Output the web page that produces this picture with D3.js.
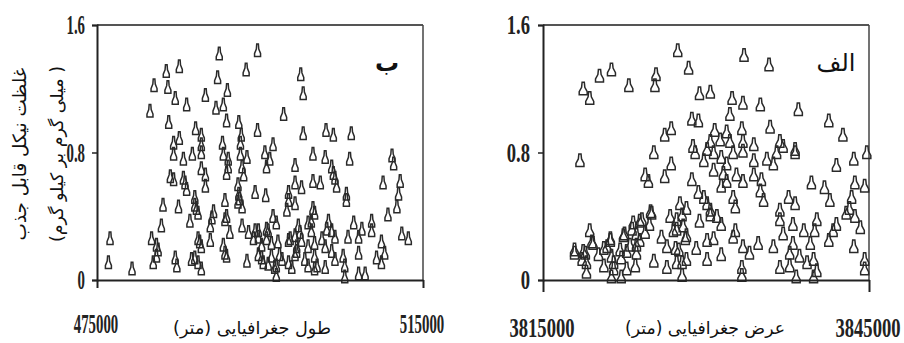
<!DOCTYPE html>
<html>
<head>
<meta charset="utf-8">
<script src="https://cdn.jsdelivr.net/npm/d3@7"></script>
<style>
  body { margin: 0; background: #fff; }
  svg { display: block; }
</style>
</head>
<body>
<svg id="chart" width="904" height="343"></svg>
<script>
// panel "ب": longitude (m) vs available nickel (mg/kg)
const lonTicks = [475000, 515000];
const concTicks = [0, 0.8, 1.6];
const concTickLabels = ['0', '0.8', '1.6'];

const lonValues = [
  490000, 494700, 485100, 483500, 482000, 483700, 484600, 486000, 481500, 489800,
  493300, 488300, 491000, 490500, 489600, 500000, 500300, 497900, 483800, 487100,
  487800, 490900, 492400, 494700, 492700, 500300, 503100, 504000, 506200, 485100,
  484400, 492600, 490400, 496600, 487800,
  484400, 485600, 486700, 487800, 490500, 491100, 492600, 493400, 495600, 496200,
  501500, 503000, 506000, 511200, 511400, 487800, 488300, 491100, 490900, 492800,
  493000, 495800, 499300, 503800, 504000, 504200, 484000, 484400, 485600, 485800,
  486000, 488300, 492300, 492400, 494400, 495700, 498500, 499300, 500100, 501500,
  502400, 504400, 505600, 505600, 510100, 512200, 512000, 483100, 485000, 487000,
  487200, 487400, 492500, 492800, 490700, 489300, 489100, 490900, 498500, 498300,
  499300, 501500, 501700, 510700, 511800, 482900, 486400, 488900, 491300, 492800,
  493600, 494200, 494800, 496000, 496600, 497000, 495800, 495200, 496400, 499700,
  500900, 501300, 503400, 503800, 504200, 506500, 507500, 508700, 508700, 509900,
  512400, 513200, 505800, 507100, 476600, 481700, 482300, 482500, 487400, 487800,
  488900, 490500, 490700, 498500, 499300, 499500, 500100, 500900, 501700, 502600,
  503000, 476400, 479300, 481900, 482300, 484600, 484800, 486600, 487400, 487800,
  490900, 493400, 494800, 495400, 496400, 497000, 497700, 497000, 498500, 498900,
  499300, 500500, 500900, 501700, 502000, 503000, 504200, 505200, 505400, 505400,
  507100, 507100, 507900, 509300, 509900, 510300, 501700,
  490700, 494400, 494800, 495800, 497200, 497400, 496800, 495200, 496000, 498700,
  499900, 501300, 503200, 503800, 499500, 487600, 487000, 487000, 492300
];
const lonConc = [
  1.42, 1.44, 1.34, 1.31, 1.22, 1.21, 1.14, 1.10, 1.06, 1.27,
  1.32, 1.16, 1.19, 1.10, 1.08, 1.29, 1.17, 1.04, 0.99, 0.95,
  0.91, 1.00, 0.99, 0.94, 0.91, 0.92, 0.94, 0.91, 0.92, 0.89,
  0.86, 0.86, 0.86, 0.85, 0.85,
  0.79, 0.76, 0.79, 0.80, 0.79, 0.76, 0.79, 0.77, 0.80, 0.76,
  0.79, 0.77, 0.76, 0.78, 0.73, 0.70, 0.66, 0.71, 0.67, 0.71,
  0.66, 0.71, 0.72, 0.71, 0.67, 0.64, 0.65, 0.63, 0.64, 0.61,
  0.57, 0.59, 0.60, 0.54, 0.55, 0.53, 0.55, 0.61, 0.58, 0.62,
  0.61, 0.59, 0.54, 0.50, 0.61, 0.62, 0.54, 0.47, 0.46, 0.52,
  0.45, 0.42, 0.51, 0.46, 0.50, 0.43, 0.39, 0.40, 0.50, 0.44,
  0.48, 0.45, 0.42, 0.41, 0.46, 0.34, 0.37, 0.34, 0.30, 0.34,
  0.30, 0.26, 0.31, 0.31, 0.40, 0.36, 0.26, 0.22, 0.23, 0.34,
  0.36, 0.31, 0.37, 0.31, 0.27, 0.36, 0.32, 0.37, 0.31, 0.24,
  0.29, 0.26, 0.27, 0.27, 0.26, 0.26, 0.22, 0.19, 0.26, 0.21,
  0.25, 0.22, 0.17, 0.25, 0.28, 0.21, 0.25, 0.21, 0.23, 0.26,
  0.21, 0.11, 0.07, 0.11, 0.15, 0.14, 0.09, 0.13, 0.11, 0.07,
  0.15, 0.12, 0.16, 0.11, 0.15, 0.09, 0.13, 0.03, 0.11, 0.08,
  0.16, 0.13, 0.09, 0.15, 0.09, 0.08, 0.13, 0.15, 0.09, 0.02,
  0.17, 0.04, 0.04, 0.14, 0.11, 0.17, 0.07,
  0.38, 0.31, 0.27, 0.32, 0.24, 0.16, 0.08, 0.14, 0.10, 0.26,
  0.30, 0.37, 0.32, 0.18, 0.18, 0.24, 0.14, 0.47, 0.49
];

// panel "الف": latitude (m) vs available nickel (mg/kg)
const latTicks = [3815000, 3845000];

const latValues = [
  3827400, 3833500, 3835800, 3828400, 3821300, 3820200, 3818700, 3819300, 3822900, 3825400,
  3825300, 3829400, 3830400, 3832400, 3833400, 3835000, 3832200, 3838500, 3841300, 3842600,
  3828700, 3829300, 3830800, 3831900, 3833300, 3835900, 3826200, 3826800, 3836800, 3828800,
  3830400, 3831300, 3832200, 3833400, 3834400, 3837100, 3838200, 3830100,
  3818400, 3825200, 3826800, 3826200, 3824400, 3824700, 3828700, 3829000, 3829800, 3830700,
  3831400, 3831900, 3832500, 3833400, 3834400, 3835600, 3836200, 3836500, 3838200, 3842000,
  3843600, 3844800, 3830700, 3831600, 3831900, 3831400, 3832800, 3833400, 3834400, 3835100,
  3835000, 3835300, 3832500, 3832700, 3829800, 3829300, 3830100, 3830400, 3831000, 3831400,
  3829400, 3839700, 3840900, 3841400, 3843700, 3844600, 3843400, 3843200, 3842900, 3843700,
  3827600, 3828200, 3827800, 3826700, 3827300, 3825000, 3824100, 3824800, 3823300, 3823600,
  3822500, 3823900, 3823000, 3822100, 3821200, 3820900, 3819300, 3819600, 3818900, 3817900,
  3818600, 3819000, 3820100, 3820600, 3821300, 3821500, 3822200, 3822700, 3823600, 3821300,
  3822200, 3825200, 3825900, 3826400, 3827000, 3827900, 3828100, 3827500, 3826400, 3827300,
  3827800, 3828200, 3829100, 3830100, 3830100, 3831400, 3832700, 3832500, 3833400, 3833300,
  3833300, 3834000, 3834800, 3836200, 3836800, 3836800, 3837100, 3837600, 3838200, 3838000,
  3839000, 3840200, 3840000, 3839600, 3838000, 3837700, 3836800, 3837700, 3838600, 3839300,
  3839900, 3840200, 3838300, 3839900, 3841700, 3842000, 3844200, 3843600, 3844600, 3844600,
  3841300,
  3817900, 3818700, 3819500, 3819000, 3820600, 3821200, 3821500, 3822400, 3822700, 3823200,
  3823900, 3824400, 3824900, 3823600, 3823500, 3827300, 3827200, 3827800, 3828200, 3830700,
  3830400
];
const latConc = [
  1.44, 1.41, 1.35, 1.33, 1.32, 1.28, 1.20, 1.14, 1.22, 1.29,
  1.22, 1.17, 1.18, 1.14, 1.11, 1.10, 1.04, 1.07, 1.00, 0.91,
  1.01, 1.00, 0.94, 0.93, 0.95, 0.96, 0.91, 0.95, 0.87, 0.84,
  0.87, 0.88, 0.87, 0.87, 0.85, 0.84, 0.82, 0.82,
  0.75, 0.80, 0.73, 0.65, 0.66, 0.62, 0.63, 0.80, 0.75, 0.80,
  0.77, 0.73, 0.80, 0.81, 0.75, 0.76, 0.73, 0.80, 0.80, 0.72,
  0.76, 0.80, 0.69, 0.67, 0.62, 0.59, 0.66, 0.62, 0.66, 0.63,
  0.56, 0.50, 0.52, 0.46, 0.52, 0.55, 0.48, 0.44, 0.40, 0.35,
  0.37, 0.61, 0.58, 0.50, 0.61, 0.59, 0.52, 0.45, 0.42, 0.40,
  0.48, 0.45, 0.41, 0.40, 0.38, 0.42, 0.38, 0.35, 0.36, 0.29,
  0.29, 0.25, 0.22, 0.19, 0.25, 0.21, 0.31, 0.23, 0.17, 0.17,
  0.13, 0.05, 0.16, 0.09, 0.15, 0.07, 0.14, 0.07, 0.17, 0.02,
  0.02, 0.12, 0.27, 0.21, 0.31, 0.34, 0.26, 0.19, 0.08, 0.11,
  0.03, 0.13, 0.20, 0.13, 0.25, 0.16, 0.31, 0.27, 0.21, 0.08,
  0.03, 0.17, 0.23, 0.21, 0.44, 0.38, 0.29, 0.52, 0.48, 0.35,
  0.31, 0.38, 0.31, 0.23, 0.23, 0.17, 0.08, 0.09, 0.15, 0.11,
  0.13, 0.06, 0.02, 0.02, 0.31, 0.35, 0.33, 0.21, 0.13, 0.07,
  0.25,
  0.19, 0.18, 0.24, 0.11, 0.20, 0.26, 0.11, 0.28, 0.18, 0.32,
  0.37, 0.30, 0.43, 0.22, 0.09, 0.32, 0.20, 0.11, 0.28, 0.26,
  0.41
];

const svg = d3.select('#chart');
const plotTop = 25, plotBottom = 280;
const ink = '#222';
const digitStretch = 1.4;

// size a text so it spans the given width
function fitWidth(sel, width, base) {
  sel.attr('font-size', base);
  const len = sel.node().getComputedTextLength();
  sel.attr('font-size', base * width / len);
}

// squeezed triangle marker, like the spreadsheet's
function marker(w) {
  const p = d3.path();
  p.moveTo(-1.1 * w, -6.5);
  p.lineTo(1.1 * w, -6.5);
  p.lineTo(1.6 * w, -1.5);
  p.lineTo(4 * w, 3);
  p.lineTo(4 * w, 6);
  p.lineTo(-4 * w, 6);
  p.lineTo(-4 * w, 3);
  p.lineTo(-1.6 * w, -1.5);
  p.closePath();
  return p.toString();
}

function drawPanel(o) {
  const x = d3.scaleLinear().domain(o.xDomain).range([o.left, o.right]);
  const y = d3.scaleLinear().domain([0, 1.6]).range([plotBottom, plotTop]);
  const g = svg.append('g');

  // frame
  g.append('line').attr('x1', o.left).attr('x2', o.right).attr('y1', plotTop).attr('y2', plotTop)
    .attr('stroke', '#555').attr('stroke-width', 2);
  g.append('line').attr('x1', o.right).attr('x2', o.right).attr('y1', plotTop).attr('y2', plotBottom)
    .attr('stroke', '#444').attr('stroke-width', 1.5);

  // markers
  const shape = marker(o.markerW);
  g.append('g').selectAll('path')
    .data(d3.zip(o.xs, o.ys))
    .join('path')
    .attr('d', shape)
    .attr('transform', d => `translate(${x(d[0])},${y(d[1])})`)
    .attr('fill', 'none')
    .attr('stroke', '#2a2a2a')
    .attr('stroke-width', 1.5);

  // y axis
  const yAxis = g.append('g').attr('transform', `translate(${o.left},0)`)
    .call(d3.axisLeft(y).tickValues(concTicks).tickSize(5).tickFormat(''));
  yAxis.select('.domain').attr('stroke', ink).attr('stroke-width', 2);
  yAxis.selectAll('.tick line').attr('stroke', ink).attr('stroke-width', 1.5);

  // x axis
  const xAxis = g.append('g').attr('transform', `translate(0,${plotBottom})`)
    .call(d3.axisBottom(x).tickValues(o.xTicks).tickSize(o.xTickLen).tickSizeOuter(0).tickFormat(''));
  xAxis.select('.domain').attr('stroke', ink).attr('stroke-width', 2);
  xAxis.selectAll('.tick line').attr('stroke', ink).attr('stroke-width', 2);

  // tick labels: tall condensed bold digits
  g.selectAll('.ylab')
    .data(concTicks)
    .join('text')
    .attr('transform', d => `translate(${o.left - o.yLabGap},${y(d) + 9.3})scale(${o.squeeze},${digitStretch})`)
    .attr('text-anchor', 'end')
    .attr('font-family', 'Liberation Serif, Times New Roman, serif')
    .attr('font-weight', 'bold')
    .attr('font-size', 20)
    .attr('fill', ink)
    .text((d, i) => concTickLabels[i]);

  g.selectAll('.xlab')
    .data(o.xTicks)
    .join('text')
    .attr('transform', d => `translate(${x(d) + o.xLabShift},${o.xLabBase})scale(${o.squeeze},${digitStretch})`)
    .attr('text-anchor', 'middle')
    .attr('font-family', 'Liberation Serif, Times New Roman, serif')
    .attr('font-weight', 'bold')
    .attr('font-size', 20)
    .attr('fill', ink)
    .text(d => d);

  // x title
  const xt = g.append('text')
    .attr('x', o.titleX).attr('y', 334)
    .attr('text-anchor', 'middle')
    .attr('direction', 'rtl')
    .attr('font-family', 'DejaVu Sans, sans-serif')
    .attr('fill', '#111')
    .text(o.title);
  fitWidth(xt, o.titleW, 16);

  // panel letter
  g.append('text')
    .attr('x', o.tagX).attr('y', 71)
    .attr('text-anchor', 'middle')
    .attr('direction', 'rtl')
    .attr('font-family', 'DejaVu Sans, sans-serif')
    .attr('font-weight', o.tagBold ? 'bold' : 'normal')
    .attr('font-size', o.tagSize)
    .attr('fill', '#111')
    .text(o.tag);
}

drawPanel({
  xs: lonValues, ys: lonConc, xDomain: [475000, 515000], xTicks: lonTicks,
  left: 97, right: 423, markerW: 0.75, squeeze: 0.74, yLabGap: 12,
  xTickLen: 8, xLabShift: -1, xLabBase: 333,
  title: 'طول جغرافیایی (متر)', titleX: 252, titleW: 158,
  tag: 'ب', tagX: 387, tagBold: true, tagSize: 24
});

drawPanel({
  xs: latValues, ys: latConc, xDomain: [3815000, 3845000], xTicks: latTicks,
  left: 543, right: 869, markerW: 1, squeeze: 0.93, yLabGap: 13,
  xTickLen: 12, xLabShift: -1, xLabBase: 337,
  title: 'عرض جغرافیایی (متر)', titleX: 705, titleW: 160,
  tag: 'الف', tagX: 836, tagBold: false, tagSize: 24
});

// shared y title, two rotated lines
const yTitle = ['غلظت نیکل قابل جذب', '( میلی گرم بر کیلو گرم)'];
const yTitleWidth = [173, 176];
svg.selectAll('.ytitle')
  .data(yTitle)
  .join('text')
  .attr('transform', (d, i) => `translate(${i === 0 ? 26 : 63},154)rotate(-90)`)
  .attr('text-anchor', 'middle')
  .attr('direction', 'rtl')
  .attr('font-family', 'DejaVu Sans, sans-serif')
  .attr('fill', '#111')
  .text(d => d)
  .each(function (d, i) { fitWidth(d3.select(this), yTitleWidth[i], 16); });
</script>
</body>
</html>
